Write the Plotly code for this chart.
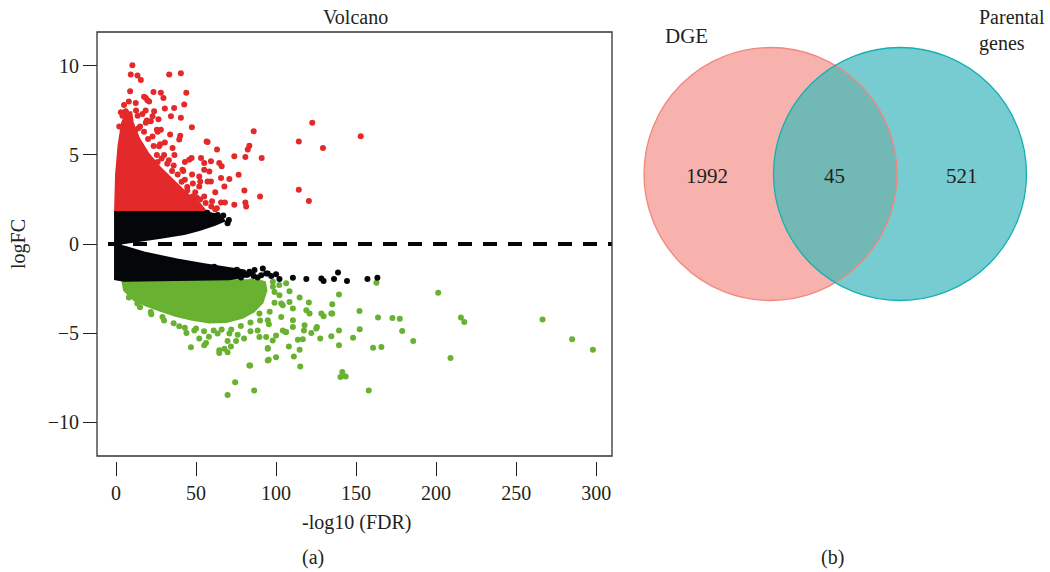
import numpy as np
import plotly.graph_objects as go

# ---------------- Volcano data (-log10 FDR, logFC) ----------------
# individually visible up-regulated genes (red)
up_x = [10.2, 9.2, 13.4, 15.5, 33.2, 40.5, 8.8, 23.4, 28.0, 29.6, 43.9, 18.6, 20.7, 12.3, 42.6, 36.3,
        23.8, 34.3, 40.5, 22.8, 19.2, 47.4, 40.1, 33.8, 25.5, 86.0, 57.2, 63.1, 83.3, 82.3, 73.9, 80.8,
        91.0, 47.2, 55.1, 59.3, 64.5, 66.0, 58.3, 76.6, 65.6, 70.8, 52.6, 59.3, 67.7, 80.2, 90.0, 65.6,
        68.0, 73.9, 80.8, 81.3, 122.6, 152.9, 114.2, 129.3, 114.2, 120.5, 6.1, 17.5, 19.6, 21.7, 18.6,
        28.0, 22.8, 39.5, 56.6, 26.9, 35.3, 45.7, 53.1, 41.5, 52.0, 55.1, 31.1, 39.5, 47.8, 52.0, 32.1,
        38.4, 45.7, 55.1, 57.2, 8.0, 14.0, 4.0, 26.0, 30.0, 36.0, 43.0, 48.0, 60.0, 62.0, 62.0, 42.0,
        12.0, 16.5, 27.5, 33.0, 44.5, 50.5,
        13.5, 15.0, 17.5, 20.0, 23.5, 25.5, 28.5, 32.0, 35.0, 38.5, 41.0, 44.5, 49.5, 52.5, 56.0, 59.5,
        63.0, 30.5, 26.0, 36.5, 47.5, 43.0, 50.0, 8.0, 5.0, 3.0, 2.0, 12.5, 18.5, 30.5, 26.5]
up_y = [10.03, 9.52, 9.46, 9.20, 9.52, 9.58, 8.58, 8.53, 8.49, 8.20, 8.49, 8.20, 8.00, 7.92, 7.83, 7.64,
        7.45, 7.17, 7.08, 7.17, 6.93, 6.55, 6.08, 6.14, 6.42, 6.33, 5.73, 5.30, 5.52, 5.30, 4.92, 4.88,
        4.83, 4.83, 4.55, 4.64, 4.55, 4.36, 4.07, 3.89, 3.70, 3.65, 3.51, 3.51, 3.23, 3.00, 2.67, 2.33,
        2.33, 2.20, 2.33, 2.10, 6.80, 6.05, 5.76, 5.39, 3.04, 2.42, 7.45, 8.26, 8.07, 6.89, 6.80,
        6.42, 6.04, 5.86, 5.76, 5.48, 5.39, 4.73, 4.83, 4.17, 3.79, 4.17, 3.42, 3.04, 2.67, 3.23, 2.48,
        2.48, 2.10, 2.67, 3.51, 7.10, 6.50, 7.20, 4.60, 5.00, 4.40, 3.60, 3.40, 2.40, 2.90, 1.95, 4.10,
        6.40, 7.30, 5.60, 4.70, 3.20, 2.60,
        7.20, 6.60, 6.30, 5.90, 5.50, 5.00, 4.80, 4.50, 4.10, 3.90, 3.50, 3.00, 2.90, 2.50, 2.30, 2.10,
        2.00, 5.70, 6.30, 5.00, 3.90, 4.60, 2.20, 8.00, 7.80, 7.40, 6.60, 7.50, 7.50, 7.60, 7.00]

# individually visible down-regulated genes (green)
down_x = [201.3, 215.5, 217.6, 266.5, 285.0, 298.0, 209.0, 163.7, 172.7, 177.3, 178.8, 185.7, 160.6,
          165.8, 157.9, 86.3, 141.4, 140.2, 143.5, 115.1, 83.8, 139.3, 135.1, 152.1, 152.3, 148.1, 139.3,
          139.3, 134.5, 127.6, 162.7, 135.1, 129.7, 128.3, 125.5, 122.0, 117.4, 114.7, 111.1, 100.0, 95.4,
          94.8, 108.0, 105.9, 114.7, 120.5, 116.7, 113.6, 110.5, 110.5, 104.2, 46.8, 56.2, 64.5, 67.7,
          69.7, 75.0, 63.5, 70.8, 83.3, 74.4, 69.7, 94.8, 94.8, 93.8, 97.9, 89.6, 39.5, 29.0, 21.7, 13.3,
          64.5, 69.7, 71.8, 48.9, 103.2, 106.3, 100.0, 88.5, 94.8, 103.2, 99.0, 106.3, 90.7, 98.0, 108.4,
          118.9, 120.9, 134.5, 108.4, 104.2, 102.1, 110.5, 125.1, 117.8, 90.7, 89.6, 83.3, 89.6, 55.1,
          8.0, 15.0, 22.0, 30.0, 36.0, 43.0, 50.0, 55.0, 61.0, 66.0, 72.0, 78.0, 84.0, 90.0, 96.0, 99.0,
          98.0, 102.0, 95.5, 76.0, 58.0, 52.0, 44.0, 84.0, 80.0]
down_y = [-2.74, -4.13, -4.38, -4.24, -5.35, -5.93, -6.40, -4.13, -4.15, -4.19, -4.88, -5.45, -5.82,
          -5.78, -8.23, -8.23, -7.19, -7.47, -7.44, -6.87, -6.82, -2.83, -3.38, -3.76, -4.79, -5.26, -4.85,
          -5.69, -5.18, -5.31, -2.18, -3.90, -4.06, -3.90, -4.66, -5.00, -4.85, -5.93, -6.31, -6.35, -6.50,
          -5.84, -5.75, -4.94, -3.00, -3.29, -5.35, -5.37, -4.66, -4.28, -4.85, -5.79, -5.56, -5.97, -5.88,
          -5.45, -5.45, -5.03, -5.03, -6.82, -7.76, -8.47, -6.54, -5.88, -5.22, -5.41, -5.22, -4.62, -4.10,
          -3.81, -3.34, -6.12, -6.07, -5.75, -4.85, -4.10, -4.94, -5.13, -4.85, -4.28, -3.34, -2.69, -2.21,
          -2.21, -2.12, -2.65, -3.72, -3.90, -3.90, -3.25, -3.44, -2.87, -3.62, -4.75, -4.56, -2.50, -3.06,
          -3.44, -3.90, -5.69,
          -3.00, -3.55, -3.95, -4.30, -4.45, -4.70, -4.75, -4.90, -4.85, -4.80, -4.80, -4.60, -4.40, -4.30,
          -3.80, -3.30, -2.40, -2.30, -4.50, -5.10, -5.20, -5.30, -5.00, -4.90, -5.30]

# individually visible non-significant genes (black)
ns_x = [61.4, 64.5, 69.7, 52.0, 63.5, 65.6, 61.4, 67.7, 73.9, 79.1, 84.4, 90.7, 94.8, 88.5, 69.7, 78.1,
        63.5, 53.1, 57.2, 83.3, 86.5, 93.8, 91.7, 102.1, 110.5, 118.9, 128.3, 129.7, 136.2, 138.7, 144.3,
        157.1, 163.3, 57.0, 59.0, 67.0, 70.5, 62.5, 56.0, 75.5, 82.0, 86.0, 97.0, 100.0]
ns_y = [1.45, 1.35, 1.17, 1.63, 1.63, 1.45, -1.28, -1.46, -1.65, -1.62, -1.65, -1.75, -1.65, -1.88, -1.84,
        -1.88, -1.75, -1.46, -1.65, -1.56, -1.46, -1.65, -1.37, -1.97, -1.90, -1.97, -1.93, -2.08, -1.97,
        -1.60, -2.08, -1.97, -1.90, 1.75, 1.55, 1.60, 1.35, 1.25, 1.15, -1.45, -1.72, -1.80, -1.80, -1.70]

# outlines of the saturated point clouds (too dense to separate single genes)
up_core_x = [-0.63, 0.0, 1.6, 3.8, 6.5, 9.5, 10.5, 14.5, 20.0, 27.5, 35.5, 44.0, 52.5, 56.5]
up_core_y = [1.80, 3.89, 5.58, 6.80, 7.40, 7.40, 6.80, 5.90, 5.10, 4.30, 3.60, 2.85, 2.25, 1.80]
ns_up_core_x = [-1.25, 55.1, 61.4, 65.8, 67.7, 61.4, 52.0, 42.6, 26.9, 14.4, 3.1, -1.25]
ns_up_core_y = [1.80, 1.80, 1.69, 1.52, 1.30, 1.07, 0.79, 0.56, 0.34, 0.17, 0.03, 0.03]
ns_dn_core_x = [-1.25, 5.0, 17.5, 38.2, 55.1, 70.8, 80.2, 83.3, 70.8, 5.0, -1.25]
ns_dn_core_y = [-0.06, -0.14, -0.48, -0.87, -1.13, -1.35, -1.49, -1.80, -1.98, -2.06, -1.97]
down_core_x = [3.76, 5.01, 11.28, 18.8, 26.9, 37.6, 47.6, 58.3, 68.9, 78.9, 86.0, 91.5, 94.0, 93.0, 83.3]
down_core_y = [-1.98, -2.59, -3.15, -3.45, -3.72, -4.05, -4.25, -4.40, -4.38, -4.15, -3.80, -3.30, -2.60,
               -2.14, -1.98]

fc_ref = 0
x_ticks = [0, 50, 100, 150, 200, 250, 300]
y_ticks = [-10, -5, 0, 5, 10]
y_ticktext = ["\u221210", "\u22125", "0", "5", "10"]

# ---------------- Venn data ----------------
venn_sets = ["DGE", "Parental<br>genes"]
venn_counts = [1992, 45, 521]  # DGE only, both, Parental only

# ---------------- styling ----------------
W, H = 1050, 572
FONT = "Liberation Serif"
TXT = "#231F20"
RED, GREEN, BLACK = "#E4292B", "#68B131", "#05060A"
FS = 20

def px_x(v):
    return v / W

def px_y(v):
    return 1 - v / H

box_l, box_r, box_t, box_b = 97, 612, 32, 456

fig = go.Figure()

def core(xs, ys, color):
    fig.add_trace(go.Scatter(x=xs, y=ys, mode="lines", fill="toself", fillcolor=color,
                             line=dict(color=color, width=2), hoverinfo="skip", showlegend=False))

def pts(xs, ys, color):
    fig.add_trace(go.Scatter(x=xs, y=ys, mode="markers",
                             marker=dict(color=color, size=6, line=dict(width=0)),
                             showlegend=False))

core(up_core_x, up_core_y, RED)
pts(up_x, up_y, RED)
core(down_core_x, down_core_y, GREEN)
pts(down_x, down_y, GREEN)
core(ns_up_core_x, ns_up_core_y, BLACK)
core(ns_dn_core_x, ns_dn_core_y, BLACK)
pts(ns_x, ns_y, BLACK)

shapes = []
# zero reference line (dashed)
shapes.append(dict(type="line", xref="x domain", yref="y", x0=0, x1=1, y0=fc_ref, y1=fc_ref,
                   line=dict(color=BLACK, width=4, dash="0px,11px,14px,0px"), layer="above"))
# plot box
shapes.append(dict(type="rect", xref="paper", yref="paper",
                   x0=px_x(box_l), x1=px_x(box_r), y0=px_y(box_b), y1=px_y(box_t),
                   line=dict(color="#333333", width=1.3), fillcolor="rgba(0,0,0,0)", layer="above"))

# Venn circles
r = 126.5
cL = (770.5, 174.0)
cR = (900.0, 174.0)
L_FILL, R_FILL, LENS_FILL = "#F7B2AD", "#77CCD1", "#72B9B6"
L_LINE, R_LINE = "#F2877E", "#16B0B2"

def circ(c, fill, line_color=None):
    return dict(type="circle", xref="paper", yref="paper",
                x0=px_x(c[0] - r), x1=px_x(c[0] + r), y0=px_y(c[1] + r), y1=px_y(c[1] - r),
                fillcolor=fill,
                line=dict(color=line_color or "rgba(0,0,0,0)", width=1.3 if line_color else 0),
                layer="above")

shapes.append(circ(cL, L_FILL))
shapes.append(circ(cR, R_FILL))
# lens (intersection)
d = cR[0] - cL[0]
ang = np.degrees(np.arccos((d / 2) / r))
a1 = np.radians(np.linspace(180 - ang, 180 + ang, 80))   # right circle, left arc
a2 = np.radians(np.linspace(-ang, ang, 80))              # left circle, right arc
xs = np.concatenate([cR[0] + r * np.cos(a1), cL[0] + r * np.cos(a2)])
ys = np.concatenate([cR[1] - r * np.sin(a1), cL[1] - r * np.sin(a2)])
path = "M " + " L ".join(f"{px_x(a):.5f},{px_y(b):.5f}" for a, b in zip(xs, ys)) + " Z"
shapes.append(dict(type="path", xref="paper", yref="paper", path=path,
                   fillcolor=LENS_FILL, line=dict(width=0), layer="above"))
shapes.append(circ(cL, "rgba(0,0,0,0)", L_LINE))
shapes.append(circ(cR, "rgba(0,0,0,0)", R_LINE))

def ann(text, x, y, size=FS, angle=0, xanchor="center", align="center"):
    return dict(text=text, x=px_x(x), y=px_y(y), xref="paper", yref="paper", showarrow=False,
                xanchor=xanchor, yanchor="middle", textangle=angle, align=align,
                font=dict(family=FONT, size=size, color=TXT))

annotations = [
    ann("Volcano", 355, 17),
    ann("logFC", 18, 244, angle=-90),
    ann("-log10 (FDR)", 356, 522),
    ann("(a)", 313, 557),
    ann("(b)", 832, 557),
    ann(venn_sets[0], 686, 36, size=21),
    ann(venn_sets[1], 977, 30, size=20, xanchor="left", align="left"),
    ann(str(venn_counts[0]), 707, 176, size=21),
    ann(str(venn_counts[1]), 834, 176, size=21),
    ann(str(venn_counts[2]), 962, 176, size=21),
]

fig.update_layout(
    width=W, height=H, autosize=False,
    margin=dict(l=0, r=0, t=0, b=0),
    paper_bgcolor="white", plot_bgcolor="white",
    showlegend=False,
    font=dict(family=FONT, size=FS, color=TXT),
    xaxis=dict(domain=[px_x(box_l), px_x(box_r)], range=[-11.9, 309.9], tickvals=x_ticks,
               ticks="outside", ticklen=14, tickwidth=1, tickcolor=TXT, showgrid=False,
               zeroline=False, showline=False, anchor="free", position=px_y(461),
               tickfont=dict(family=FONT, size=FS, color=TXT)),
    yaxis=dict(domain=[px_y(box_b), px_y(box_t)], range=[-11.9, 11.9], tickvals=y_ticks,
               ticktext=y_ticktext, ticks="outside", ticklen=14, tickwidth=1, tickcolor=TXT,
               showgrid=False, zeroline=False, showline=False, anchor="free", position=px_x(box_l),
               tickfont=dict(family=FONT, size=FS, color=TXT)),
    shapes=shapes,
    annotations=annotations,
)

fig.write_html("out.html")
